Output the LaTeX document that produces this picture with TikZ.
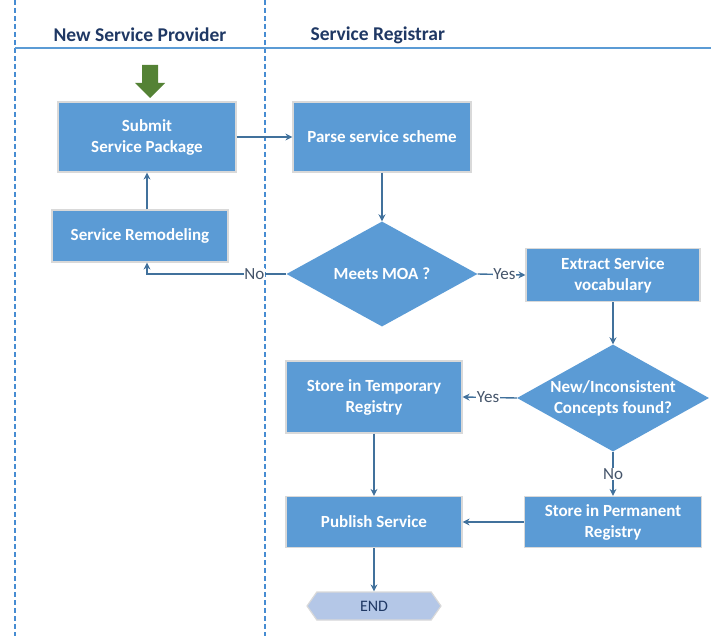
\documentclass[tikz,border=0pt]{standalone}
\usepackage{fontspec}
\setmainfont{Carlito}
\usetikzlibrary{shapes.geometric,shapes.symbols,arrows.meta}
\definecolor{boxblue}{RGB}{91,155,213}
\definecolor{lanecol}{RGB}{70,140,210}
\definecolor{linkblue}{RGB}{65,113,156}
\definecolor{navy}{RGB}{31,56,100}
\definecolor{lblgray}{RGB}{68,84,106}
\definecolor{endfill}{RGB}{180,199,231}
\definecolor{greenarr}{RGB}{84,130,53}
\begin{document}
\begin{tikzpicture}[x=1pt,y=-1pt,
  procbox/.style={rectangle,fill=boxblue,draw=black!15,line width=1.2pt,text=white,
    font=\fontsize{17}{21}\selectfont\bfseries,align=center,inner sep=0pt},
  decision/.style={diamond,fill=boxblue,draw=none,inner sep=0pt},
  dtext/.style={text=white,font=\fontsize{17}{21}\selectfont\bfseries,align=center,inner sep=0pt},
  link/.style={draw=linkblue,line width=1.4pt,-{Stealth[length=7pt,width=7pt]}},
  lbl/.style={fill=white,text=lblgray,font=\fontsize{17}{19}\selectfont,inner sep=0.5pt},
  lane/.style={draw=lanecol,line width=1.2pt,dash pattern=on 5pt off 3pt},
  header/.style={text=navy,font=\fontsize{19.5}{22}\selectfont\bfseries}
]
\useasboundingbox (0,0) rectangle (711,636);
% lanes
\draw[lane] (15,0) -- (15,636);
\draw[lane] (265,0) -- (265,636);
\draw[draw=boxblue,line width=1.2pt] (15,48) -- (711,48);
\node[header] (h1) at (140,35) {New Service Provider};
\node[header,anchor=west] (h2) at (307,35) {Service Registrar};
% nodes
\node[procbox,minimum width=178pt,minimum height=70pt] (sub) at (147,137) {Submit\\Service Package};
\node[procbox,minimum width=176pt,minimum height=52pt] (rem) at (140,236) {Service Remodeling};
\node[procbox,minimum width=178pt,minimum height=70pt] (parse) at (382,137) {Parse service scheme};
\node[decision,minimum width=191pt,minimum height=105pt] (moa) at (382,274) {};
\node[dtext] (moat) at (moa.center) {Meets MOA ?};
\node[procbox,minimum width=174pt,minimum height=53pt] (ext) at (613,275) {Extract Service\\vocabulary};
\node[decision,minimum width=192pt,minimum height=107pt] (newc) at (613,398) {};
\node[dtext] (newct) at (newc.center) {New/Inconsistent\\Concepts found?};
\node[procbox,minimum width=176pt,minimum height=72pt] (tmp) at (374,397) {Store in Temporary\\Registry};
\node[procbox,minimum width=176pt,minimum height=51pt] (pub) at (374,522) {Publish Service};
\node[procbox,minimum width=177pt,minimum height=51pt] (perm) at (613,522) {Store in Permanent\\Registry};
\node[signal,signal to=west and east,signal pointer angle=110,fill=endfill,draw=black!15,line width=1.2pt,
  minimum width=134pt,minimum height=28pt,inner sep=0pt,text=navy,
  font=\fontsize{16}{18}\selectfont] (end) at (374,606) {END};
% start arrow
\fill[greenarr] (142,65) -- (158,65) -- (158,83) -- (165,83) -- (150,98) -- (135,83) -- (142,83) -- cycle;
% connectors
\draw[link] (sub.east) -- (parse.west);
\draw[link] (parse.south) -- (moa.north);
\draw[link] (moa.west) -- node[lbl,pos=0.23]{No} (sub.south |- moa.west) -- (sub.south |- rem.south);
\draw[link] (sub.south |- rem.north) -- (sub.south);
\draw[link] (moa.east) -- node[lbl,pos=0.56]{Yes} (ext.west);
\draw[link] (ext.south) -- (newc.north);
\draw[link] (newc.west) -- node[lbl,pos=0.53]{Yes} (tmp.east);
\draw[link] (newc.south) -- node[lbl,pos=0.5]{No} (perm.north);
\draw[link] (perm.west) -- (pub.east);
\draw[link] (tmp.south) -- (pub.north);
\draw[link] (pub.south) -- (end.north);
\end{tikzpicture}
\end{document}
